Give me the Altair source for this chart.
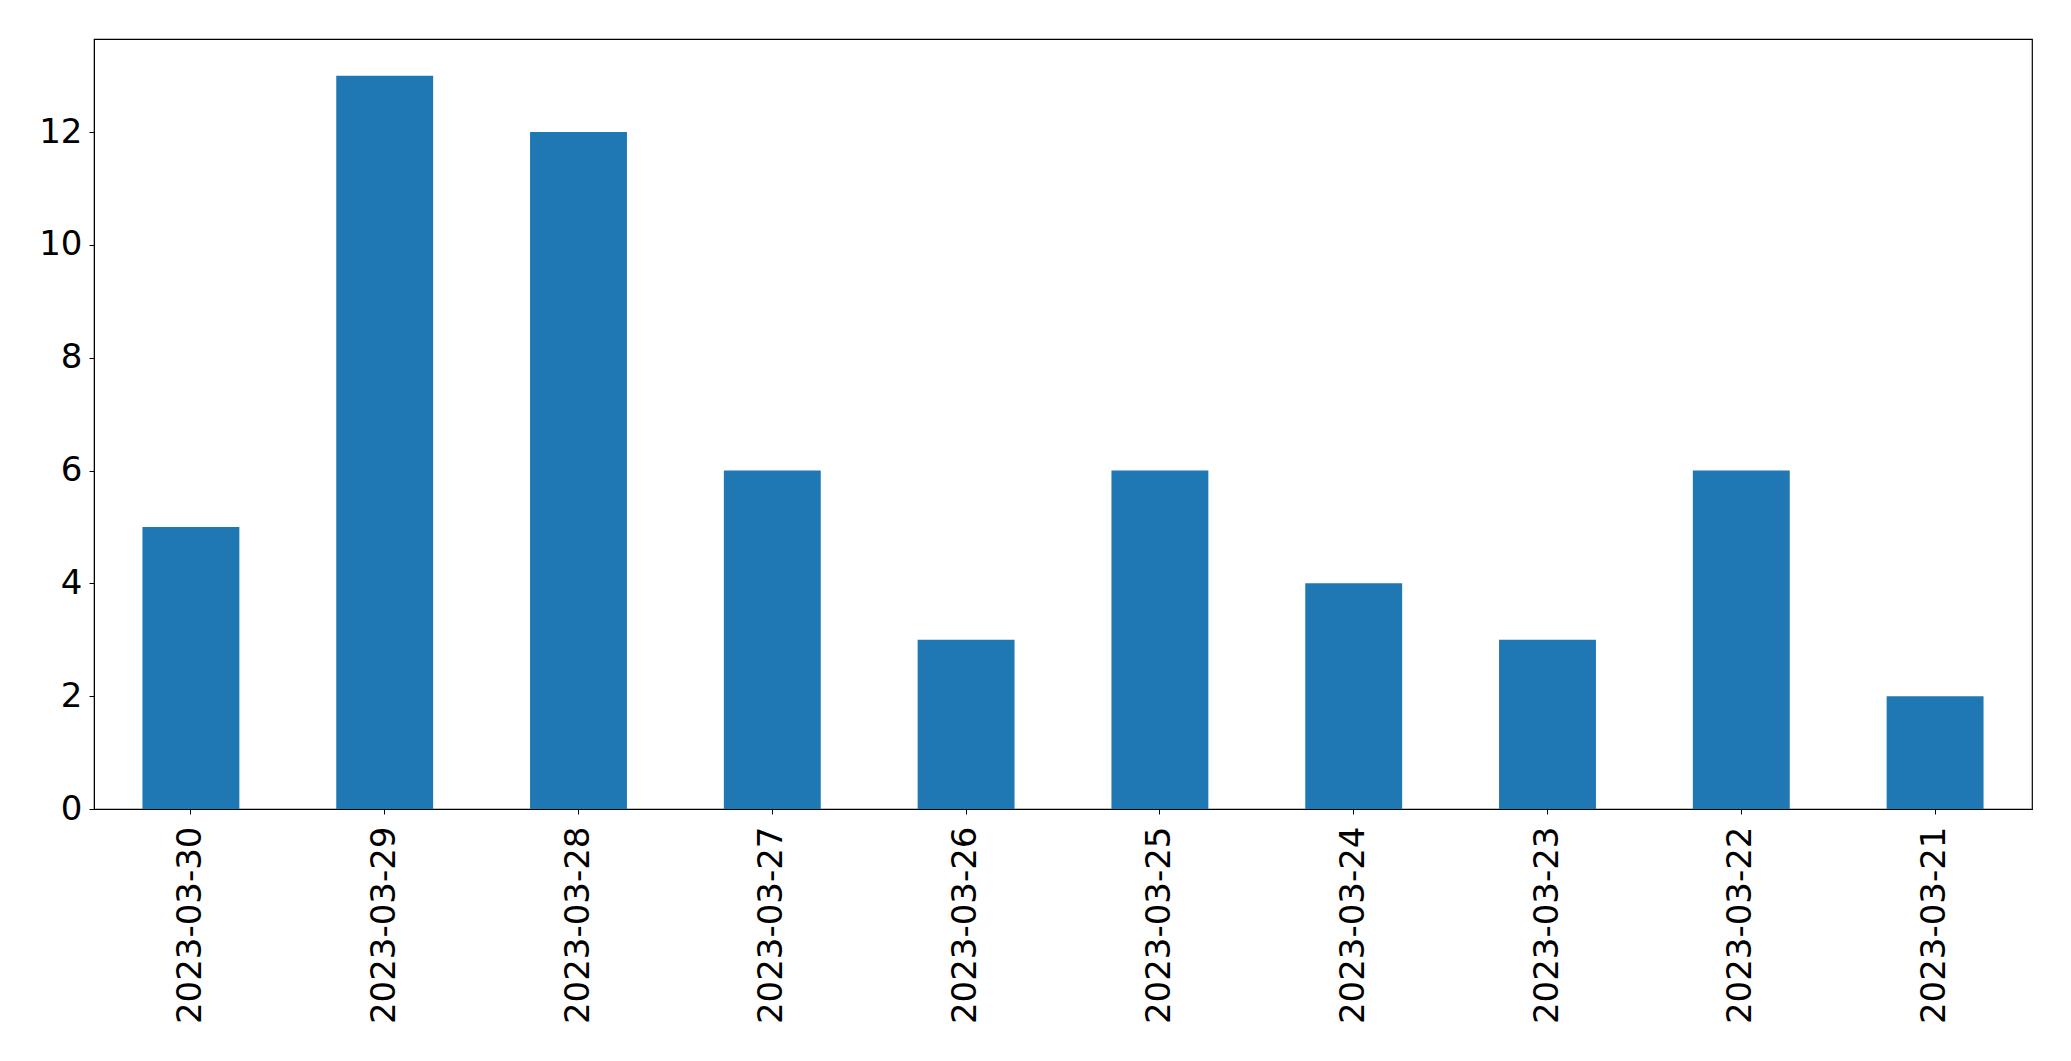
import altair as alt
import pandas as pd

dates = ["2023-03-30", "2023-03-29", "2023-03-28", "2023-03-27", "2023-03-26",
         "2023-03-25", "2023-03-24", "2023-03-23", "2023-03-22", "2023-03-21"]
counts = [5, 13, 12, 6, 3, 6, 4, 3, 6, 2]

df = pd.DataFrame({"date": dates, "count": counts})

chart = alt.Chart(df).mark_bar(color="#1f77b4").encode(
    x=alt.X("date:N", sort=None, title=None,
            scale=alt.Scale(paddingInner=0.5, paddingOuter=0.25),
            axis=alt.Axis(labelAngle=-90, labelFontSize=34, labelFont="DejaVu Sans",
                          labelColor="black", tickColor="black", tickSize=5,
                          labelPadding=12, domainColor="black", grid=False,
                          labelLimit=500, labelOverlap=False)),
    y=alt.Y("count:Q", title=None,
            scale=alt.Scale(domain=[0, 13.65], nice=False, zero=True),
            axis=alt.Axis(values=[0, 2, 4, 6, 8, 10, 12], labelFontSize=34,
                          labelFont="DejaVu Sans", labelColor="black",
                          tickColor="black", tickSize=5, labelPadding=7,
                          domainColor="black", grid=False)),
).properties(
    width=1938, height=770,
    autosize=alt.AutoSizeParams(type="none"),
    padding={"left": 86, "top": 31, "right": 20, "bottom": 230},
).configure_view(stroke="black", strokeWidth=1.2)

chart.save("out.html", embed_options={"renderer": "svg", "actions": False})
